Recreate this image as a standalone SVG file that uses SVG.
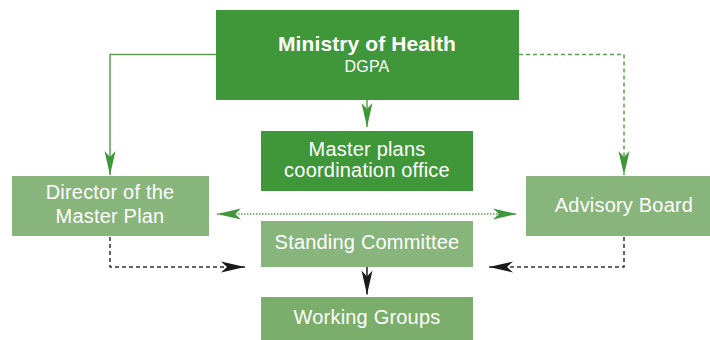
<svg xmlns="http://www.w3.org/2000/svg" width="710" height="340" viewBox="0 0 710 340">
<style>
.dark{fill:#3f973a}
.light{fill:#88b57b}
.lw{fill:#7aae6a}
text{font-family:"Liberation Sans",Arial,sans-serif;fill:#fff;text-anchor:middle;font-size:20px;letter-spacing:0.2px}
.title{font-weight:bold;font-size:21px;letter-spacing:0.1px}
.sub{font-size:16px}
.gl{fill:none;stroke:#5aa04f;stroke-width:1.5}
.bl{fill:none;stroke:#333;stroke-width:1.5;stroke-dasharray:4 3}
</style>
<defs>
<marker id="ag" viewBox="-25 -7 26 14" markerWidth="26" markerHeight="14" refX="0" refY="0" markerUnits="userSpaceOnUse" orient="auto-start-reverse">
<path d="M0,0 L-24,-5.5 L-18,0 L-24,5.5 Z" fill="#3e9739"/>
</marker>
<marker id="ab" viewBox="-25 -7 26 14" markerWidth="26" markerHeight="14" refX="0" refY="0" markerUnits="userSpaceOnUse" orient="auto">
<path d="M0,0 L-24,-5.5 L-18,0 L-24,5.5 Z" fill="#1a1a1a"/>
</marker>
</defs>
<g id="connectors">
<path class="gl" d="M216,54.5 H110 V175" marker-end="url(#ag)"/>
<path class="gl" d="M519,54.5 H624 V175" stroke-dasharray="4 3" marker-end="url(#ag)"/>
<path class="gl" d="M367,100 V127" marker-end="url(#ag)"/>
<path class="gl" d="M217,214 H517" stroke-dasharray="1.5 1.5" marker-start="url(#ag)" marker-end="url(#ag)"/>
<path class="bl" d="M110,237 V267 H245" marker-end="url(#ab)"/>
<path class="bl" d="M624,237 V267 H489" marker-end="url(#ab)"/>
<path d="M367,267 V294.5" stroke="#1a1a1a" stroke-width="1.5" fill="none" marker-end="url(#ab)"/>
</g>
<g id="ministry">
<rect class="dark" x="216" y="10" width="303" height="90"/>
<text class="title" x="367" y="51">Ministry of Health</text>
<text class="sub" x="367" y="72">DGPA</text>
</g>
<g id="coordination">
<rect class="dark" x="261" y="131" width="212" height="60"/>
<text x="367" y="156">Master plans</text>
<text x="367" y="177">coordination office</text>
</g>
<g id="director">
<rect class="light" x="12" y="176" width="197" height="60"/>
<text x="110" y="199">Director of the</text>
<text x="110" y="223">Master Plan</text>
</g>
<g id="advisory">
<rect class="light" x="526" y="176" width="184" height="60"/>
<text x="624" y="212">Advisory Board</text>
</g>
<g id="standing">
<rect class="light" x="261" y="221" width="212" height="46"/>
<text x="367" y="249">Standing Committee</text>
</g>
<g id="working">
<rect class="lw" x="261" y="297" width="212" height="43"/>
<text x="367" y="324">Working Groups</text>
</g>
</svg>
